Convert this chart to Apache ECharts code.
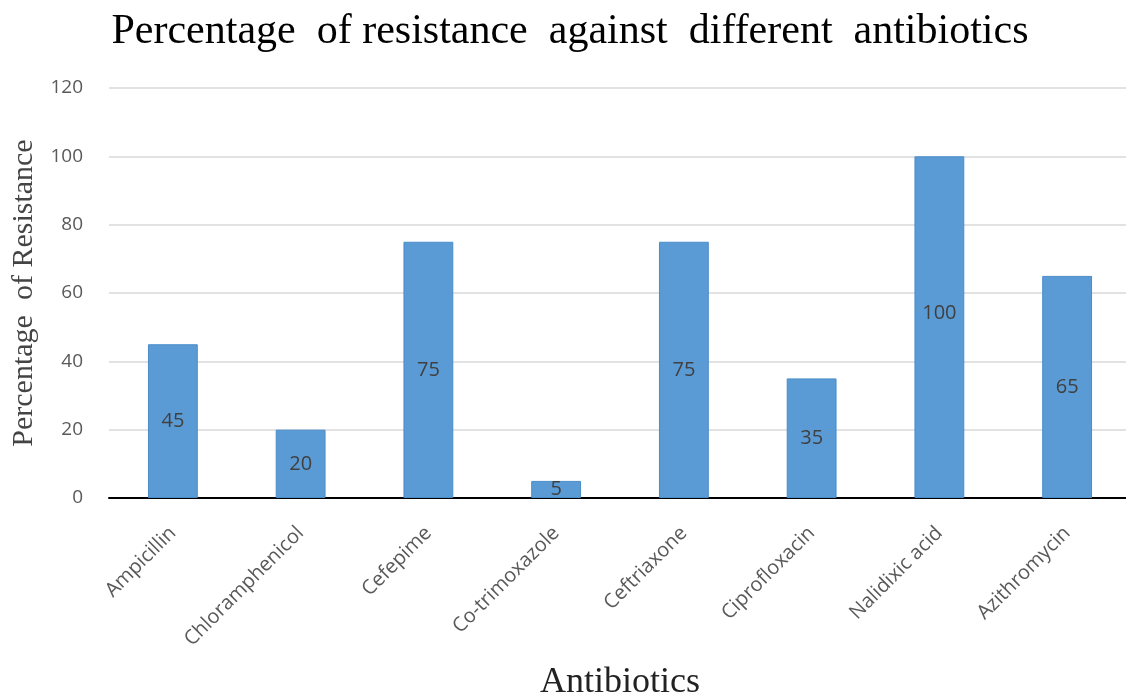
<!DOCTYPE html>
<html><head><meta charset="utf-8">
<script src="https://cdn.jsdelivr.net/npm/echarts@6/dist/echarts.min.js"></script>
<style>html,body{margin:0;padding:0;background:#fff}#c{width:1126px;height:696px}</style>
</head><body><div id="c"></div>
<script>
const categories = ["Ampicillin","Chloramphenicol","Cefepime","Co-trimoxazole","Ceftriaxone","Ciprofloxacin","Nalidixic acid","Azithromycin"];
const resistance = [45, 20, 75, 5, 75, 35, 100, 65];
const yTicks = {min: 0, max: 120, interval: 20};
const titleText = "Percentage  of resistance  against  different  antibiotics";
const xName = "Antibiotics";
const yName = "Percentage  of Resistance";

const chart = echarts.init(document.getElementById('c'));
chart.setOption({
  animation: false,
  backgroundColor: '#fff',
  title: {
    text: titleText, left: 565, top: 6, textAlign: 'center',
    textStyle: {fontFamily: 'Liberation Serif', fontSize: 42, fontWeight: 'normal', color: '#000'}
  },
  grid: {left: 109, top: 88, width: 1022, height: 410, containLabel: false, outerBoundsMode: 'none'},
  xAxis: {
    type: 'category', data: categories,
    name: xName, nameLocation: 'middle', nameGap: 167,
    nameTextStyle: {fontFamily: 'Liberation Serif', fontSize: 36, color: '#222'},
    axisLine: {lineStyle: {color: '#000', width: 2}},
    axisTick: {show: false},
    axisLabel: {rotate: 45, margin: 32, fontFamily: 'Open Sans', fontSize: 20, color: '#595959', interval: 0}
  },
  yAxis: {
    type: 'value', min: yTicks.min, max: yTicks.max, interval: yTicks.interval,
    name: yName, nameLocation: 'middle', nameGap: 68, nameRotate: 90,
    nameTextStyle: {fontFamily: 'Liberation Serif', fontSize: 30, color: '#444'},
    axisLine: {show: false}, axisTick: {show: false},
    axisLabel: {margin: 26, fontFamily: 'Open Sans', fontSize: 19, color: '#595959'},
    splitLine: {lineStyle: {color: '#d9d9d9', width: 1.5}}
  },
  series: [{
    type: 'bar',
    data: resistance.map((v, i) => v === 100 ? {value: v, label: {offset: [0, -14]}} : v),
    barWidth: '39%',
    itemStyle: {color: '#5b9bd5', borderColor: '#4a8cc8', borderWidth: 1},
    label: {show: true, position: 'inside', fontFamily: 'Open Sans', fontSize: 20, color: '#404040'}
  }]
});
</script></body></html>
